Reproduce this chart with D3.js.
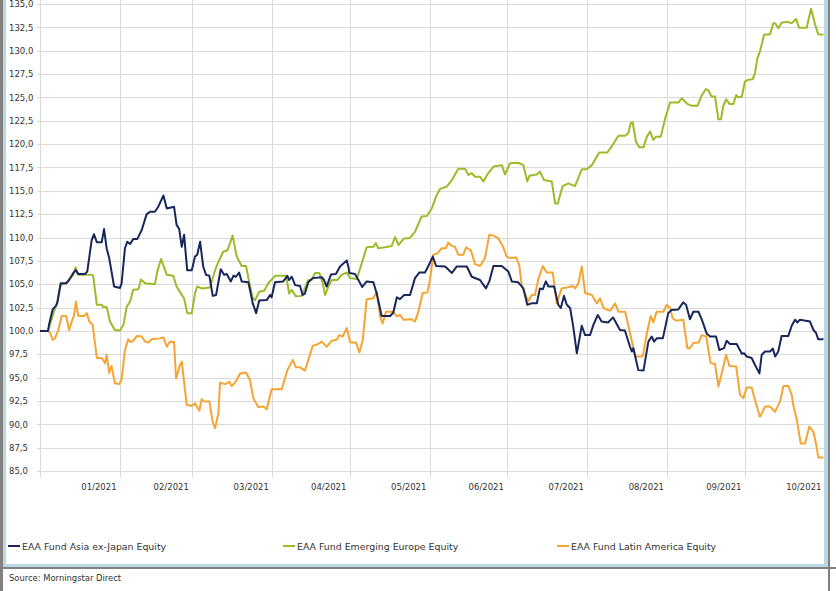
<!DOCTYPE html>
<html>
<head>
<meta charset="utf-8">
<script src="https://cdn.jsdelivr.net/npm/d3@7"></script>
<style>
  html, body { margin: 0; padding: 0; background: #fff; }
  svg { display: block; }
  text { font-family: "DejaVu Sans", Verdana, sans-serif; fill: #333; }
</style>
</head>
<body>
<svg id="chart" width="836" height="591"></svg>
<script>
// ---------------- DATA (days counted from 1 Jan 2021) ----------------
const seriesNames = ["EAA Fund Asia ex-Japan Equity", "EAA Fund Emerging Europe Equity", "EAA Fund Latin America Equity"];
const startDate = "2021-01-01";
const endDate = "2021-11-01";
const yTicks = [85, 87.5, 90, 92.5, 95, 97.5, 100, 102.5, 105, 107.5, 110, 112.5, 115, 117.5, 120, 122.5, 125, 127.5, 130, 132.5, 135];
const monthTicks = ["2021-02-01","2021-03-01","2021-04-01","2021-05-01","2021-06-01","2021-07-01","2021-08-01","2021-09-01","2021-10-01","2021-11-01"];
const monthLabels = ["01/2021","02/2021","03/2021","04/2021","05/2021","06/2021","07/2021","08/2021","09/2021","10/2021"];

const asiaDays = [0,3.1,3.6,4.9,6.2,6.7,8.0,10.1,11.0,12.9,13.8,14.8,17.4,18.3,20.0,20.9,22.0,23.9,24.8,25.8,26.8,28.7,31.0,31.6,32.9,33.8,34.9,36.1,37.7,39.4,41.3,42.6,44.5,45.8,47.8,49.1,51.9,52.9,53.9,54.9,55.8,57.0,58.8,60.0,60.9,62.0,63.2,64.3,65.6,66.9,68.2,70.0,71.3,72.3,73.9,74.9,75.9,77.1,78.1,80.7,82.4,83.7,84.9,87.8,89.1,89.7,91.0,94.2,95.8,96.5,97.5,98.8,100.7,101.7,102.6,103.9,105.6,109.1,110.0,111.0,112.7,114.6,116.2,118.8,119.4,119.8,122.0,124.8,126.5,129.1,130.4,132.3,135.6,136.8,138.2,139.4,141.0,143.3,145.2,146.9,149.1,150.4,152.1,153.4,156.9,159.5,161.4,165.3,167.2,170.4,172.7,174.0,175.6,178.8,181.4,182.7,185.2,187.2,188.7,190.4,192.4,193.6,194.7,195.9,196.9,199.1,200.7,201.7,202.9,204.0,205.3,206.5,207.9,209.8,211.1,213.0,214.3,216.0,217.5,220.0,221.9,224.6,226.5,228.5,229.2,229.8,231.7,233.7,235.6,236.9,237.8,238.8,241.2,243.3,244.6,247.2,249.1,250.2,251.7,253.0,255.0,256.3,258.2,259.5,261.8,263.1,264.9,265.9,267.2,269.8,271.8,272.7,273.7,275.6,276.9,278.6,279.5,280.8,282.7,283.8,284.7,285.9,287.2,289.8,291.1,292.4,293.3,294.3,298.2,299.5,300.5,301.4,303.4];
const asiaValues = [100,100,100.8,102.3,102.7,103.0,105.1,105.1,105.35,106.2,106.5,106.1,106.1,106.35,109.7,110.35,109.5,109.5,110.9,108.85,107.8,104.75,104.6,105.1,108.85,109.55,109.3,109.85,109.85,110.8,112.5,112.75,112.75,113.3,114.5,113.1,113.3,111.35,110.9,109.0,110.3,106.5,106.5,107.95,108.15,109.55,106.9,106.0,105.9,103.75,103.85,106.6,106.0,106.1,105.3,105.9,105.8,106.25,105.3,105.2,102.95,101.9,103.25,103.3,103.85,103.6,105.2,105.3,105.9,105.45,105.8,104.9,104.8,103.85,104.0,105.2,105.65,105.75,105.45,104.75,106.05,106.1,106.9,107.55,106.9,106.2,106.1,104.7,105.3,105.2,104.0,101.6,101.6,101.95,103.6,103.4,103.85,103.85,105.65,106.25,106.25,106.95,107.95,106.95,106.9,106.2,106.9,106.9,105.8,105.45,104.55,105.3,106.95,106.95,106.35,105.3,105.2,104.55,102.8,102.95,102.95,104.55,104.45,105.3,104.75,104.75,102.8,102.45,103.75,102.8,102.45,100.45,97.6,100.55,99.55,99.55,100.65,101.7,101.0,100.9,101.45,100.1,100.05,98.3,97.8,98.15,95.8,95.75,98.85,99.4,98.85,99.2,99.2,101.9,102.25,102.3,103.05,102.8,101.25,102.05,102.05,101.2,99.7,99.4,99.4,97.95,98.15,98.95,98.6,98.6,97.55,97.6,97.25,97.1,96.35,95.45,97.45,97.8,97.8,98.1,97.25,97.8,99.45,99.45,100.55,101.2,100.9,101.2,101.0,100.1,99.8,99.1,99.1];

const europeDays = [0,3.1,5.2,6.6,8.0,10.1,11.6,12.9,13.8,14.8,20.0,20.6,22.0,23.9,24.5,25.8,27.1,29.0,31.0,32.3,33.6,34.9,36.1,38.1,39.1,40.7,44.5,45.4,46.9,49.1,51.6,52.9,54.9,55.8,57.0,58.8,60.0,60.9,62.6,65.8,67.8,69.1,71.0,72.5,73.6,74.6,76.2,78.1,79.8,81.1,82.4,83.3,84.9,86.8,88.4,91.0,95.3,96.5,97.5,99.1,101.4,103.3,103.9,105.2,106.5,108.2,109.5,110.4,111.7,113.0,115.1,116.8,118.8,120.1,122.7,124.6,126.5,129.1,130.1,131.0,133.6,136.2,137.5,138.8,141.0,143.3,145.2,147.8,149.8,151.7,153.4,154.9,157.5,159.5,162.0,164.6,165.9,167.2,168.5,170.4,171.7,173.6,175.6,178.8,180.1,182.0,185.2,187.2,188.7,189.5,192.4,193.6,195.2,198.2,199.5,200.5,202.4,204.6,207.2,209.8,211.7,213.7,216.6,219.7,221.4,224.0,226.6,227.8,228.8,229.5,230.8,232.1,233.7,235.0,236.3,237.5,238.6,240.4,242.1,244.0,247.2,248.5,250.7,252.4,254.6,256.3,257.9,258.8,260.1,261.4,262.7,263.7,264.6,265.7,267.0,268.5,269.6,270.4,271.8,273.0,274.3,276.0,276.9,277.8,278.8,280.4,282.7,284.0,284.7,285.9,287.2,289.2,291.1,292.8,294.0,296.9,298.6,300.2,301.4,303.4];
const europeValues = [100,100,101.9,103.0,104.9,105.1,105.6,106.0,106.8,106.0,106.0,105.9,102.8,102.8,102.55,102.55,101.0,100.1,100.05,100.65,102.6,103.15,104.4,104.45,105.5,105.1,105.0,106.35,107.7,106.0,105.9,104.75,103.85,103.5,101.9,101.9,104.0,104.75,104.55,104.65,106.5,107.4,108.5,108.6,109.4,110.2,107.95,106.95,106.95,105.1,103.5,103.3,104.2,104.3,105.1,105.9,105.9,104.0,104.4,103.7,103.75,105.1,105.45,105.45,106.2,106.2,105.1,103.85,104.75,105.45,105.45,106.0,106.25,105.65,105.55,107.25,108.95,109.0,109.4,108.85,108.95,109.1,110.05,109.2,109.9,109.95,110.6,112.25,112.3,113.1,114.4,115.2,115.45,116.15,117.35,117.35,116.7,116.9,116.5,116.5,116.0,116.9,117.6,117.75,116.75,117.95,118.0,117.75,116.0,116.6,116.75,117.05,116.15,116.0,113.65,113.65,115.5,115.8,115.5,117.3,117.3,117.75,119.1,119.1,119.75,120.9,120.9,121.15,122.25,122.35,120.25,119.65,119.65,120.8,121.35,120.45,120.8,120.8,122.75,124.45,124.45,124.9,124.3,124.1,124.1,125.25,125.9,125.75,125.1,125.1,122.65,122.65,124.1,124.8,124.3,124.3,125.25,125.0,125.1,126.7,126.9,126.95,127.6,129.2,129.9,131.7,131.75,132.95,132.95,132.4,133.0,133.1,132.95,133.4,132.45,132.45,134.5,132.75,131.75,131.7];

const latamDays = [0,3.1,3.9,4.9,5.8,7.1,8.4,10.1,11.3,12.3,13.2,13.9,14.8,17.0,18.1,19.1,20.4,22.0,23.9,25.2,25.8,26.8,27.7,29.0,30.7,31.6,32.9,34.2,35.1,36.1,37.5,39.4,40.7,41.9,43.3,46.5,47.8,49.1,50.3,51.9,52.7,54.2,54.9,56.8,58.8,60.0,61.7,62.6,63.5,65.6,66.9,67.8,69.1,69.7,71.7,73.3,74.2,75.5,77.5,79.8,81.3,82.6,84.5,86.5,87.8,89.7,93.6,95.8,97.9,99.1,100.7,102.6,103.5,105.6,107.8,109.1,111.0,113.0,114.9,115.9,117.2,118.8,120.1,122.4,123.7,125.0,126.5,129.1,130.4,131.7,132.7,134.0,136.8,138.2,139.4,140.7,144.0,145.2,146.5,148.2,150.0,151.0,152.3,153.9,155.6,157.2,158.1,159.5,160.7,162.0,163.9,165.0,166.8,168.5,170.4,172.3,174.0,175.6,177.5,179.2,180.7,182.0,184.4,185.6,186.6,187.5,189.1,190.4,191.7,193.0,194.7,196.2,198.6,200.1,202.0,204.0,206.3,207.2,208.5,209.8,211.1,213.7,215.6,216.9,218.2,220.8,222.7,224.0,226.6,228.5,230.5,233.4,235.0,236.5,237.5,238.8,241.4,242.7,244.0,245.0,246.3,249.1,250.7,251.7,253.0,255.0,256.3,258.0,259.7,261.4,262.7,264.0,265.7,267.0,269.6,271.1,272.4,273.7,275.6,276.9,278.8,280.8,282.7,284.7,286.6,287.9,289.8,291.1,291.8,293.1,294.6,296.3,297.9,299.5,300.5,301.4,303.4];
const latamValues = [100,100,99.8,99.05,99.2,100.1,101.6,101.6,100.1,101.0,101.7,103.15,101.6,101.6,101.9,101.0,100.65,97.1,97.1,96.55,97.45,95.5,96.25,94.4,94.3,94.8,97.95,99.1,98.8,98.95,99.45,99.4,98.85,98.75,99.1,99.2,99.3,98.3,98.85,98.8,94.9,96.35,96.7,92.1,91.95,92.25,91.45,92.7,92.45,92.45,90.2,89.6,91.2,94.45,94.3,94.55,94.1,94.45,95.45,95.55,94.75,92.8,91.85,91.9,91.6,93.75,93.75,95.8,96.9,96.1,96.1,95.75,96.55,98.4,98.6,98.85,98.3,98.95,99.05,99.55,99.4,100.3,98.75,98.75,97.7,99.05,103.4,103.5,104.2,101.55,100.8,102.05,102.05,101.55,101.7,101.2,101.25,101.0,102.05,104.05,104.1,105.45,108.15,108.3,108.85,108.85,109.45,109.1,109.0,108.15,108.15,108.95,108.65,107.15,106.95,107.8,110.3,110.2,109.9,109.1,107.95,107.8,107.85,107.05,104.75,104.2,103.15,103.85,103.85,105.55,106.95,106.25,106.25,102.95,104.55,104.65,104.8,104.55,105.1,106.9,104.05,103.85,102.95,103.5,102.45,102.15,102.95,102.05,102.05,99.75,97.25,97.25,99.75,101.6,100.9,102.05,102.05,102.8,102.45,101.35,101.1,101.2,98.15,98.15,98.7,98.75,99.55,99.4,96.55,96.45,94.05,95.45,97.45,96.25,96.2,93.15,92.8,93.95,93.95,92.6,90.8,91.9,91.9,91.35,92.45,94.1,94.1,93.15,91.95,90.45,87.95,87.95,89.75,89.2,87.95,86.45,86.45];

const colors = ["#17275c", "#9cbb28", "#f6a532"];

// ---------------- DRAWING ----------------
const svg = d3.select("#chart");
const parse = d3.timeParse("%Y-%m-%d");
const t0 = parse(startDate);
const toDate = d => new Date(t0.getTime() + d * 86400000);

const x = d3.scaleTime().domain([t0, parse(endDate)]).range([40, 825]);
const y = d3.scaleLinear().domain([85, 135]).range([471, 4]);

// frame
svg.append("rect").attr("x", 0).attr("y", 0).attr("width", 836).attr("height", 591).attr("fill", "#fff");

const grid = svg.append("g");
// horizontal grid
grid.selectAll("line.h").data(yTicks).join("line")
  .attr("x1", 37).attr("x2", 824)
  .attr("y1", d => Math.round(y(d)) + 0.5).attr("y2", d => Math.round(y(d)) + 0.5)
  .attr("stroke", "#dadada").attr("stroke-width", 1);
// vertical grid (month boundaries + start)
const vDates = [t0].concat(monthTicks.slice(0, -1).map(parse));
grid.selectAll("line.v").data(vDates).join("line")
  .attr("x1", d => Math.round(x(d)) + 0.5).attr("x2", d => Math.round(x(d)) + 0.5)
  .attr("y1", 0).attr("y2", 478)
  .attr("stroke", "#dadada").attr("stroke-width", 1);

// y axis labels
const yAxis = d3.axisLeft(y).tickValues(yTicks).tickSize(0)
  .tickFormat(d => d3.format(".1f")(d).replace(".", ","));
const gy = svg.append("g").attr("transform", "translate(9,0)").call(yAxis);
gy.select(".domain").remove();
gy.selectAll("text").attr("text-anchor", "start").attr("x", 0).attr("dy", "0.32em")
  .style("font-size", "8.5px").style("font-family", "'DejaVu Sans', Verdana, sans-serif").attr("fill", "#333");

// x axis labels (right-aligned at end of each month)
const xAxis = d3.axisBottom(x).tickValues(monthTicks.map(parse)).tickSize(0)
  .tickFormat((d, i) => monthLabels[i]);
const gx = svg.append("g").attr("transform", "translate(0,476)").call(xAxis);
gx.select(".domain").remove();
gx.selectAll("text").attr("text-anchor", "end").attr("dx", "-4").attr("y", 8).attr("dy", "0")
  .style("font-size", "8.5px").style("font-family", "'DejaVu Sans', Verdana, sans-serif").attr("fill", "#333");
gx.selectAll(".tick text").attr("transform", "translate(0,0)").each(function(){ d3.select(this).attr("y", 8); });
gx.selectAll(".tick text").attr("dy", "0.71em");

// lines
const series = [
  { days: asiaDays, values: asiaValues },
  { days: europeDays, values: europeValues },
  { days: latamDays, values: latamValues }
];
const line = d3.line().x(d => x(d.date)).y(d => y(d.v));
const drawOrder = [2, 1, 0];
drawOrder.forEach(i => {
  const s = series[i];
  const pts = s.days.map((d, k) => ({ date: toDate(d), v: s.values[k] }));
  svg.append("path").datum(pts).attr("d", line)
    .attr("fill", "none").attr("stroke", colors[i]).attr("stroke-width", 2)
    .attr("stroke-linejoin", "round");
});

// legend
const legendX = [8, 283, 557];
const lg = svg.append("g");
seriesNames.forEach((name, i) => {
  lg.append("line").attr("x1", legendX[i]).attr("x2", legendX[i] + 12)
    .attr("y1", 546).attr("y2", 546).attr("stroke", colors[i]).attr("stroke-width", 2);
  lg.append("text").attr("x", legendX[i] + 14).attr("y", 550)
    .style("font-size", "9.4px").text(name);
});

// borders
svg.append("rect").attr("x", 3).attr("y", 0).attr("width", 3).attr("height", 565).attr("fill", "#b9d8e4");
svg.append("rect").attr("x", 824).attr("y", 0).attr("width", 4).attr("height", 565).attr("fill", "#b9d8e4");
svg.append("rect").attr("x", 3).attr("y", 564).attr("width", 825).attr("height", 3).attr("fill", "#b9d8e4");
svg.append("rect").attr("x", 0).attr("y", 0).attr("width", 3).attr("height", 591).attr("fill", "#808080");
svg.append("rect").attr("x", 828).attr("y", 0).attr("width", 2).attr("height", 567).attr("fill", "#808080");
svg.append("rect").attr("x", 0).attr("y", 567).attr("width", 836).attr("height", 2).attr("fill", "#808080");
svg.append("rect").attr("x", 828).attr("y", 567).attr("width", 2).attr("height", 24).attr("fill", "#808080");

// source
svg.append("text").attr("x", 9).attr("y", 581).style("font-size", "8.4px").text("Source: Morningstar Direct");
</script>
</body>
</html>
